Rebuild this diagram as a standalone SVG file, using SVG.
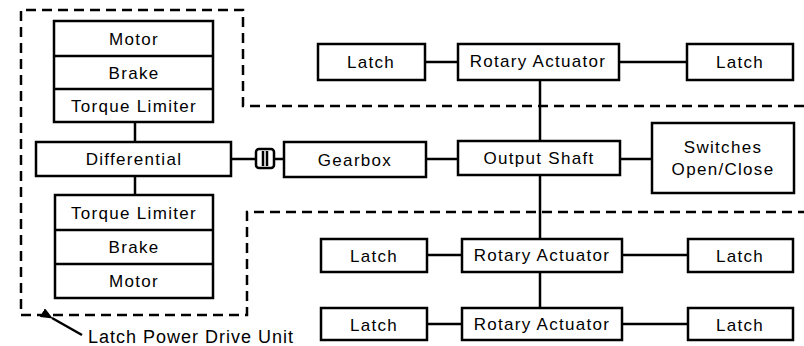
<svg xmlns="http://www.w3.org/2000/svg" width="804" height="346" viewBox="0 0 804 346">
<style>
.b{fill:#fff;stroke:#000;stroke-width:2.5}
.c{fill:none;stroke:#000;stroke-width:2.5}
.d{fill:none;stroke:#000;stroke-width:2.5;stroke-dasharray:10 6}
text{font-family:"Liberation Sans",Arial,sans-serif;font-size:17px;letter-spacing:1.3px;text-anchor:middle;fill:#000}
</style>
<defs>
<marker id="ah" markerWidth="12" markerHeight="10" refX="1" refY="5" orient="auto-start-reverse" markerUnits="userSpaceOnUse">
<path d="M0,5 L12,0 L12,10 Z" fill="#000"/>
</marker>
</defs>
<rect width="804" height="346" fill="#fff"/>
<g id="boundary">
<path class="d" d="M804,106 H243 V10 H21 V315 H247 V212 H804"/>
</g>
<g id="connectors">
<line class="c" x1="135" y1="122" x2="135" y2="142"/>
<line class="c" x1="135" y1="176" x2="135" y2="195"/>
<line class="c" x1="231" y1="159" x2="256" y2="159"/>
<line class="c" x1="274" y1="159" x2="284" y2="159"/>
<line class="c" x1="426" y1="159" x2="458" y2="159"/>
<line class="c" x1="620" y1="159" x2="652" y2="159"/>
<line class="c" x1="540" y1="80" x2="540" y2="141"/>
<line class="c" x1="540" y1="175" x2="540" y2="239"/>
<line class="c" x1="540" y1="272" x2="540" y2="308"/>
<line class="c" x1="425" y1="62" x2="458" y2="62"/>
<line class="c" x1="619" y1="62" x2="687" y2="62"/>
<line class="c" x1="427" y1="255" x2="462" y2="255"/>
<line class="c" x1="622" y1="255" x2="688" y2="255"/>
<line class="c" x1="427" y1="324" x2="462" y2="324"/>
<line class="c" x1="622" y1="324" x2="688" y2="324"/>
<line x1="82" y1="335" x2="52" y2="318" stroke="#000" stroke-width="2.5" marker-end="url(#ah)"/>
</g>
<g id="pdu-top">
<rect class="b" x="54" y="21" width="159" height="101"/>
<line class="c" x1="54" y1="56" x2="213" y2="56"/>
<line class="c" x1="54" y1="89" x2="213" y2="89"/>
<text x="134" y="45">Motor</text>
<text x="134" y="79">Brake</text>
<text x="134" y="112">Torque Limiter</text>
</g>
<g id="differential">
<rect class="b" x="36" y="142" width="195" height="34"/>
<text x="134" y="165">Differential</text>
</g>
<g id="pdu-bottom">
<rect class="b" x="55" y="195" width="158" height="103"/>
<line class="c" x1="55" y1="230" x2="213" y2="230"/>
<line class="c" x1="55" y1="264" x2="213" y2="264"/>
<text x="134" y="219">Torque Limiter</text>
<text x="134" y="253">Brake</text>
<text x="134" y="287">Motor</text>
</g>
<g id="coupling">
<rect class="b" x="256" y="149" width="18" height="19" rx="3"/>
<line class="c" x1="263" y1="151" x2="263" y2="166"/>
<line class="c" x1="267" y1="151" x2="267" y2="166"/>
</g>
<g id="gearbox">
<rect class="b" x="284" y="142" width="142" height="35"/>
<text x="355" y="166">Gearbox</text>
</g>
<g id="output-shaft">
<rect class="b" x="458" y="141" width="162" height="34"/>
<text x="539" y="164">Output Shaft</text>
</g>
<g id="switches">
<rect class="b" x="652" y="123" width="142" height="70"/>
<text x="723" y="153">Switches</text>
<text x="723" y="175">Open/Close</text>
</g>
<g id="latch-1l">
<rect class="b" x="318" y="44" width="107" height="36"/>
<text x="371" y="68">Latch</text>
</g>
<g id="actuator-1">
<rect class="b" x="458" y="44" width="161" height="36"/>
<text x="538" y="67">Rotary Actuator</text>
</g>
<g id="latch-1r">
<rect class="b" x="687" y="44" width="106" height="36"/>
<text x="740" y="68">Latch</text>
</g>
<g id="latch-2l">
<rect class="b" x="321" y="239" width="106" height="33"/>
<text x="374" y="262">Latch</text>
</g>
<g id="actuator-2">
<rect class="b" x="462" y="239" width="160" height="33"/>
<text x="542" y="261">Rotary Actuator</text>
</g>
<g id="latch-2r">
<rect class="b" x="688" y="239" width="105" height="33"/>
<text x="740" y="262">Latch</text>
</g>
<g id="latch-3l">
<rect class="b" x="321" y="308" width="106" height="32"/>
<text x="374" y="331">Latch</text>
</g>
<g id="actuator-3">
<rect class="b" x="462" y="308" width="160" height="32"/>
<text x="542" y="330">Rotary Actuator</text>
</g>
<g id="latch-3r">
<rect class="b" x="688" y="308" width="105" height="32"/>
<text x="740" y="331">Latch</text>
</g>
<g id="label">
<text x="191" y="343" style="font-size:18px;letter-spacing:1px">Latch Power Drive Unit</text>
</g>
</svg>
